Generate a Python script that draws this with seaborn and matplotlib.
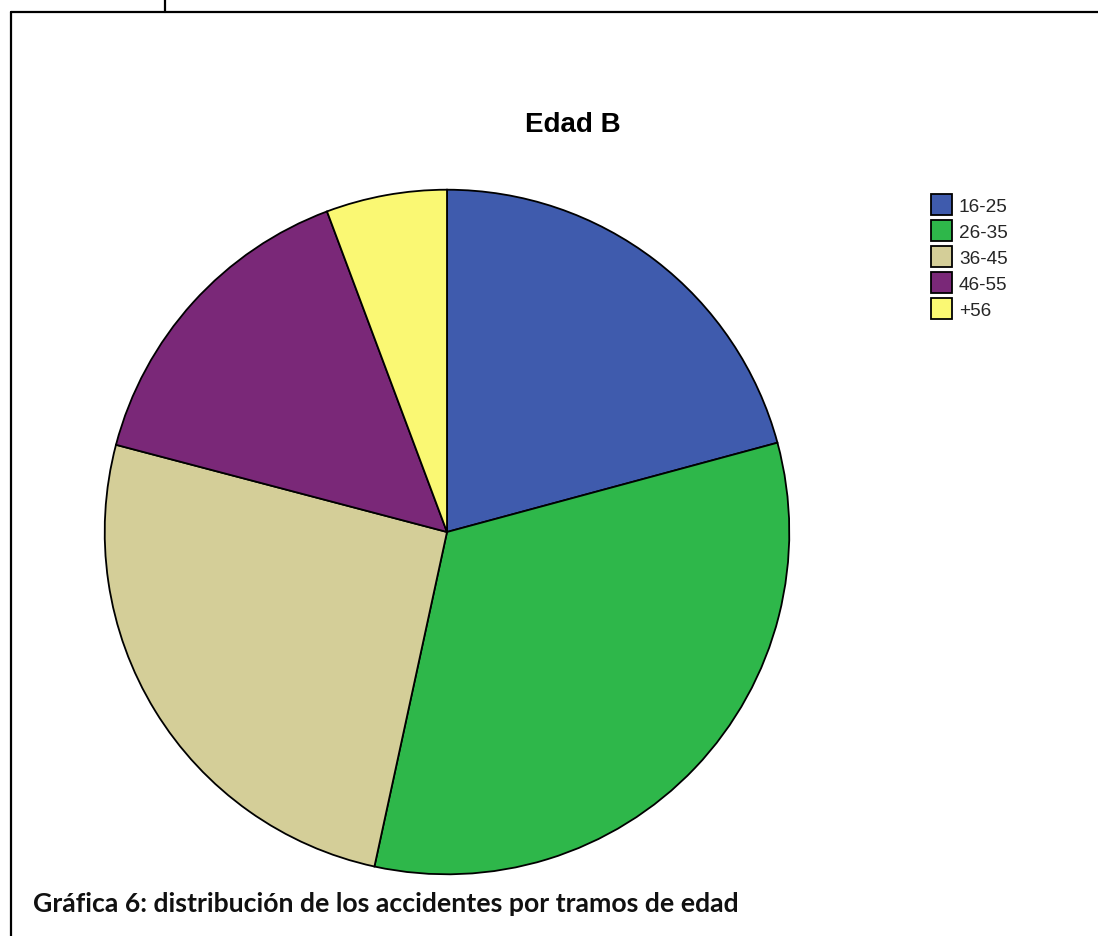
import matplotlib
matplotlib.use("Agg")
import matplotlib.pyplot as plt
from matplotlib.lines import Line2D
from matplotlib.patches import Patch
import seaborn as sns

# Share of accidents by age bracket (percent)
tramos = ["16-25", "26-35", "36-45", "46-55", "+56"]
porcentajes = [20.8, 32.6, 25.7, 15.2, 5.7]
colores = ["#3F5BAD", "#2EB74A", "#D4CE98", "#7A2878", "#FAF873"]

titulo = "Edad B"
pie_pagina = "Gráfica 6: distribución de los accidentes por tramos de edad"

sns.set_theme(style="white")
plt.rcParams["font.family"] = ["Liberation Sans", "DejaVu Sans"]
paleta = sns.color_palette(colores)

W, H = 1098, 937
fig = plt.figure(figsize=(W / 100, H / 100), dpi=100)
fig.patch.set_facecolor("white")

# Pie axes: centre ~ (447, 533) px, radius ~344 px
cx, cy, r = 447, 533, 344
ax = fig.add_axes([(cx - r) / W, (H - cy - r) / H, 2 * r / W, 2 * r / H])
ax.pie(porcentajes, colors=paleta, startangle=90, counterclock=False,
       radius=1.0,
       wedgeprops=dict(edgecolor="black", linewidth=1.3))
ax.set_xlim(-1.005, 1.005)
ax.set_ylim(-1.005, 1.005)
ax.set_aspect("equal")
ax.axis("off")

# Title
fig.text(573 / W, 1 - 125 / H, titulo, ha="center", va="center",
         fontsize=20, fontweight="bold", color="black")

# Legend
handles = [Patch(facecolor=c, edgecolor="black", linewidth=1.3) for c in paleta]
fig.legend(handles, tramos, loc="upper left",
           bbox_to_anchor=(931 / W, 1 - 195 / H), frameon=False,
           fontsize=13.7, handlelength=1.1, handleheight=1.32,
           handletextpad=0.37, labelspacing=0.26, borderpad=0,
           borderaxespad=0)

# Caption, sized to span its line
cap = fig.text(33 / W, 1 - 912 / H, pie_pagina, ha="left", va="baseline",
               fontsize=18, fontweight="bold", color="#111111",
               family=["Lato", "DejaVu Sans"])
renderer = fig.canvas.get_renderer()
ancho = cap.get_window_extent(renderer).width
cap.set_fontsize(18 * 707 / ancho)

# Page frame lines
lw = 1.6
fig.add_artist(Line2D([10.5 / W, 1], [1 - 12.5 / H, 1 - 12.5 / H],
                      transform=fig.transFigure, color="black", lw=lw))
fig.add_artist(Line2D([10.5 / W, 10.5 / W], [0, 1 - 12.5 / H],
                      transform=fig.transFigure, color="black", lw=lw))
fig.add_artist(Line2D([165 / W, 165 / W], [1 - 12.5 / H, 1],
                      transform=fig.transFigure, color="black", lw=lw))

fig.savefig("out.png", dpi=100, facecolor="white")
